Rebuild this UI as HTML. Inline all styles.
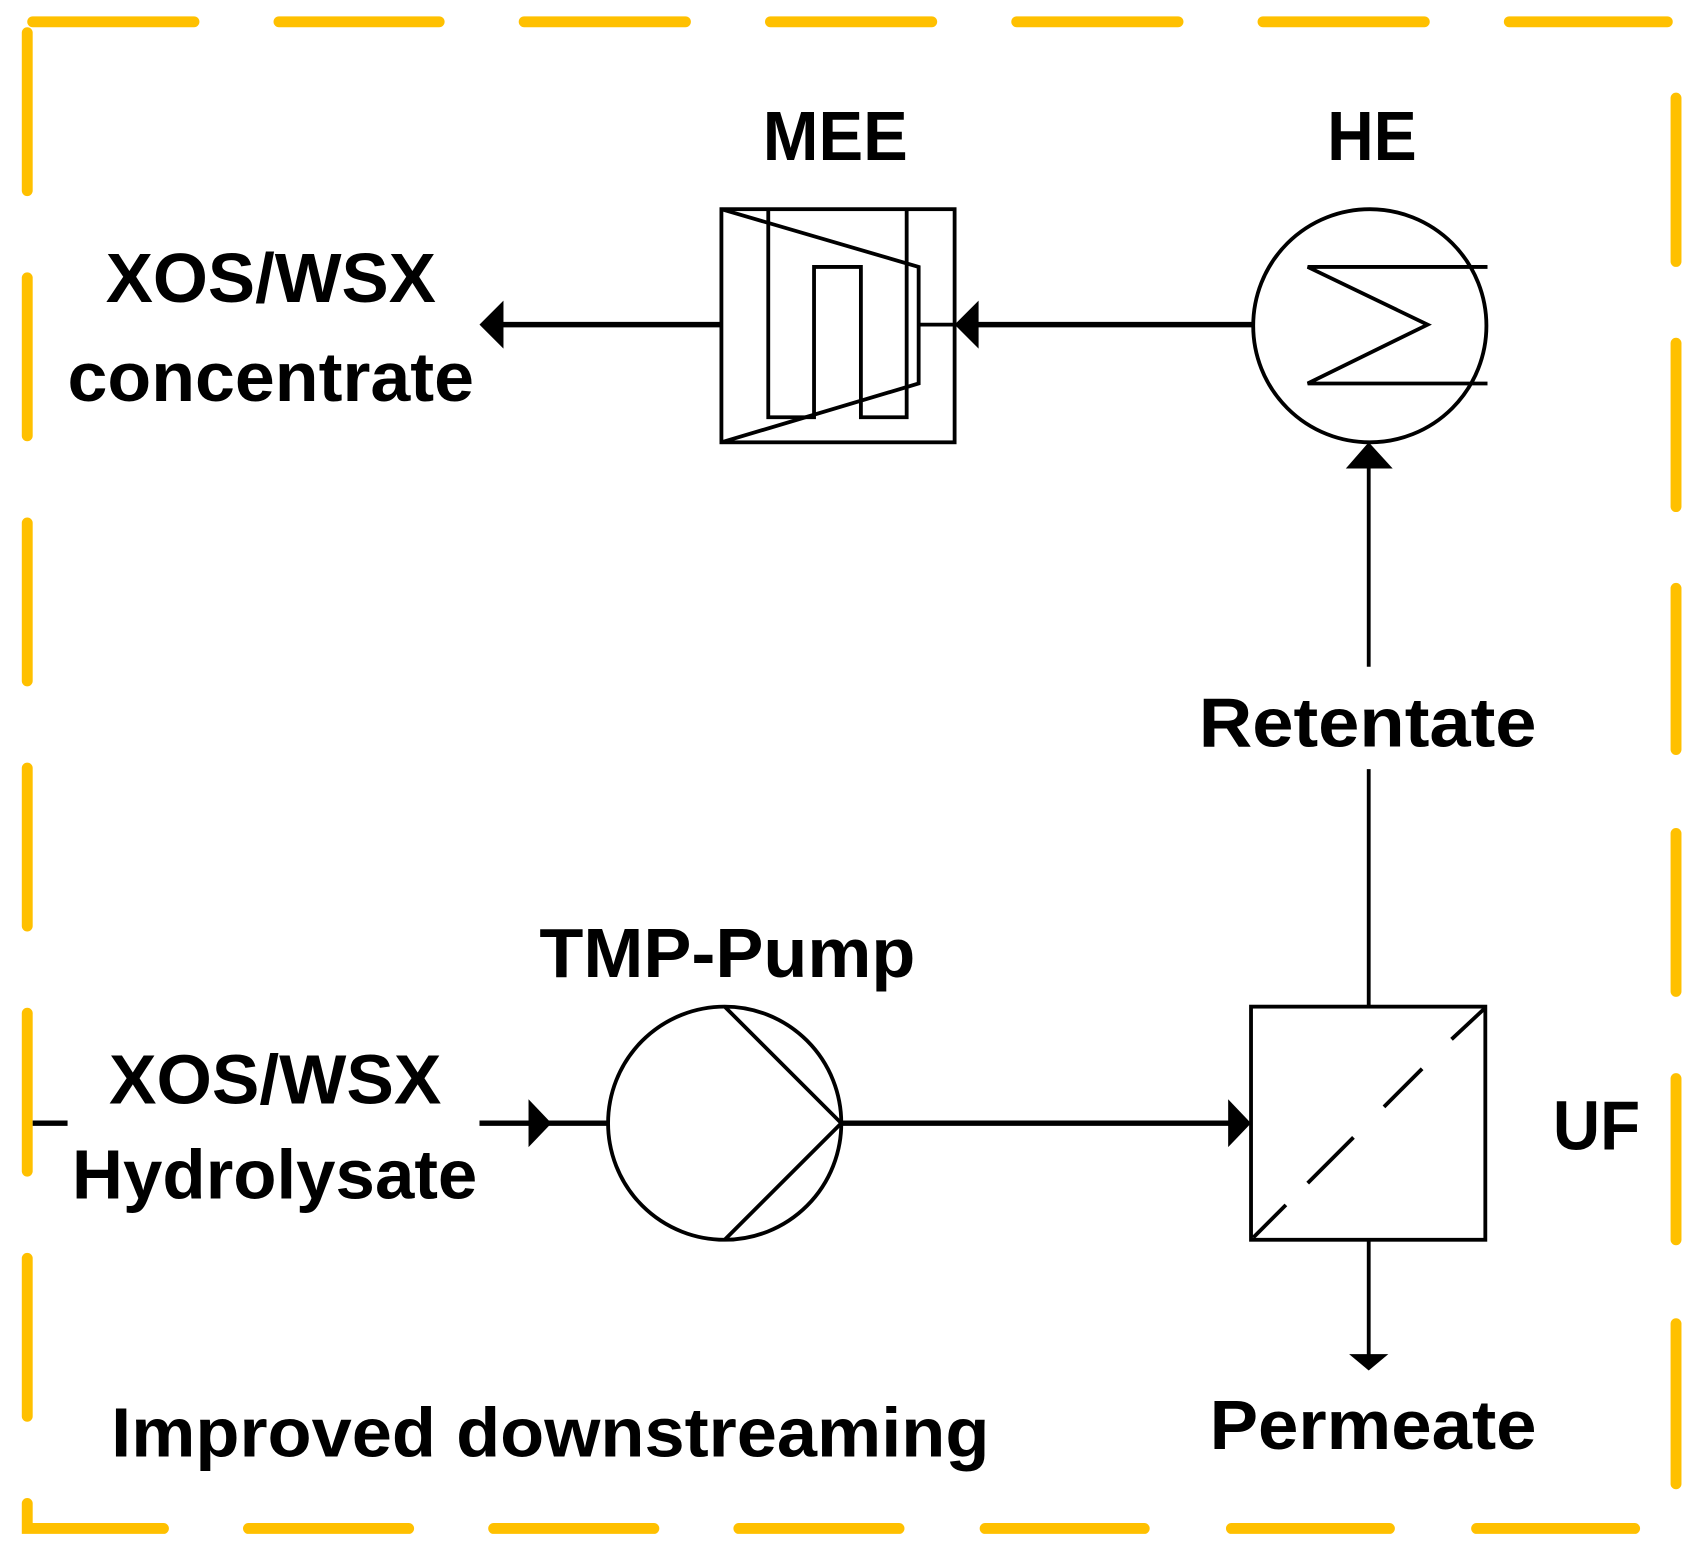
<!DOCTYPE html>
<html><head><meta charset="utf-8"><style>
html,body{margin:0;padding:0;background:#fff;}
svg{display:block;}
text{font-family:"Liberation Sans",sans-serif;font-weight:bold;fill:#000;font-size:64px;}
</style></head><body>
<svg width="1700" height="1547" viewBox="0 0 1560 1420" preserveAspectRatio="none" xmlns="http://www.w3.org/2000/svg">
<g stroke="#FFC000" stroke-width="10" stroke-linecap="round" fill="none">
<line x1="30" y1="20" x2="178" y2="20"/><line x1="256" y1="20" x2="403" y2="20"/><line x1="481" y1="20" x2="629" y2="20"/><line x1="707" y1="20" x2="855" y2="20"/><line x1="933" y1="20" x2="1081" y2="20"/><line x1="1159" y1="20" x2="1307" y2="20"/><line x1="1385" y1="20" x2="1530" y2="20"/>
<line x1="25" y1="30" x2="25" y2="175"/><line x1="25" y1="255" x2="25" y2="400"/><line x1="25" y1="480" x2="25" y2="625"/><line x1="25" y1="705" x2="25" y2="850"/><line x1="25" y1="930" x2="25" y2="1075"/><line x1="25" y1="1155" x2="25" y2="1300"/>
<polyline points="25,1380 25,1403 150,1403"/>
<line x1="228" y1="1403" x2="375" y2="1403"/><line x1="453" y1="1403" x2="600" y2="1403"/><line x1="678" y1="1403" x2="825" y2="1403"/><line x1="904" y1="1403" x2="1050" y2="1403"/><line x1="1130" y1="1403" x2="1275" y2="1403"/><line x1="1355" y1="1403" x2="1500" y2="1403"/>
<line x1="1538" y1="90" x2="1538" y2="240"/><line x1="1538" y1="315" x2="1538" y2="465"/><line x1="1538" y1="540" x2="1538" y2="688"/><line x1="1538" y1="765" x2="1538" y2="910"/><line x1="1538" y1="990" x2="1538" y2="1138"/><line x1="1538" y1="1215" x2="1538" y2="1362"/>
</g>
<g stroke="#000" stroke-width="3.5" fill="none">
<rect x="662" y="192" width="214" height="214"/>
<polyline points="705,192 705,383 747,383 747,245 790,245 790,383 832,383 832,192"/>
<polyline points="662,192 843,245 843,352 662,406"/>
<line x1="843" y1="298" x2="876" y2="298"/>
<circle cx="1257" cy="299" r="107"/>
<polyline points="1365,245 1200,245 1310,298 1200,352 1365,352"/>
<circle cx="665" cy="1031" r="107"/>
<polyline points="665,924 772,1031 665,1138"/>
<rect x="1148" y="924" width="215" height="214"/>
<line x1="1150" y1="1136" x2="1180" y2="1106"/><line x1="1200" y1="1086" x2="1242" y2="1044"/><line x1="1270" y1="1016" x2="1305" y2="981"/><line x1="1332" y1="954" x2="1362" y2="926"/>
<line x1="1256" y1="1138" x2="1256" y2="1245"/>
<line x1="1256" y1="430" x2="1256" y2="612"/>
<line x1="1256" y1="706" x2="1256" y2="925"/>
</g>
<g stroke="#000" stroke-width="5" fill="none">
<line x1="460" y1="298" x2="662" y2="298"/>
<line x1="896" y1="298" x2="1150" y2="298"/>
<line x1="30" y1="1031" x2="62" y2="1031"/>
<line x1="440" y1="1031" x2="558" y2="1031"/>
<line x1="772" y1="1031" x2="1130" y2="1031"/>
</g>
<g fill="#000">
<polygon points="440,298 462,276 462,320"/>
<polygon points="876,298 898,276 898,320"/>
<polygon points="1256,406 1235,430 1278,430"/>
<polygon points="506,1031 485,1009 485,1053"/>
<polygon points="1148,1031 1127,1009 1127,1053"/>
<polygon points="1256,1258 1238,1243 1274,1243"/>
</g>
<text x="700" y="147" textLength="133" lengthAdjust="spacingAndGlyphs">MEE</text>
<text x="1218" y="147" textLength="82" lengthAdjust="spacingAndGlyphs">HE</text>
<text x="97" y="277" textLength="303" lengthAdjust="spacingAndGlyphs">XOS/WSX</text>
<text x="62" y="368" textLength="373" lengthAdjust="spacingAndGlyphs">concentrate</text>
<text x="1100" y="685" textLength="310" lengthAdjust="spacingAndGlyphs">Retentate</text>
<text x="495" y="897" textLength="345" lengthAdjust="spacingAndGlyphs">TMP-Pump</text>
<text x="100" y="1013" textLength="305" lengthAdjust="spacingAndGlyphs">XOS/WSX</text>
<text x="66" y="1100" textLength="372" lengthAdjust="spacingAndGlyphs">Hydrolysate</text>
<text x="1425" y="1055" textLength="80" lengthAdjust="spacingAndGlyphs">UF</text>
<text x="102" y="1337" textLength="806" lengthAdjust="spacingAndGlyphs">Improved downstreaming</text>
<text x="1110" y="1330" textLength="300" lengthAdjust="spacingAndGlyphs">Permeate</text>
</svg>
</body></html>
